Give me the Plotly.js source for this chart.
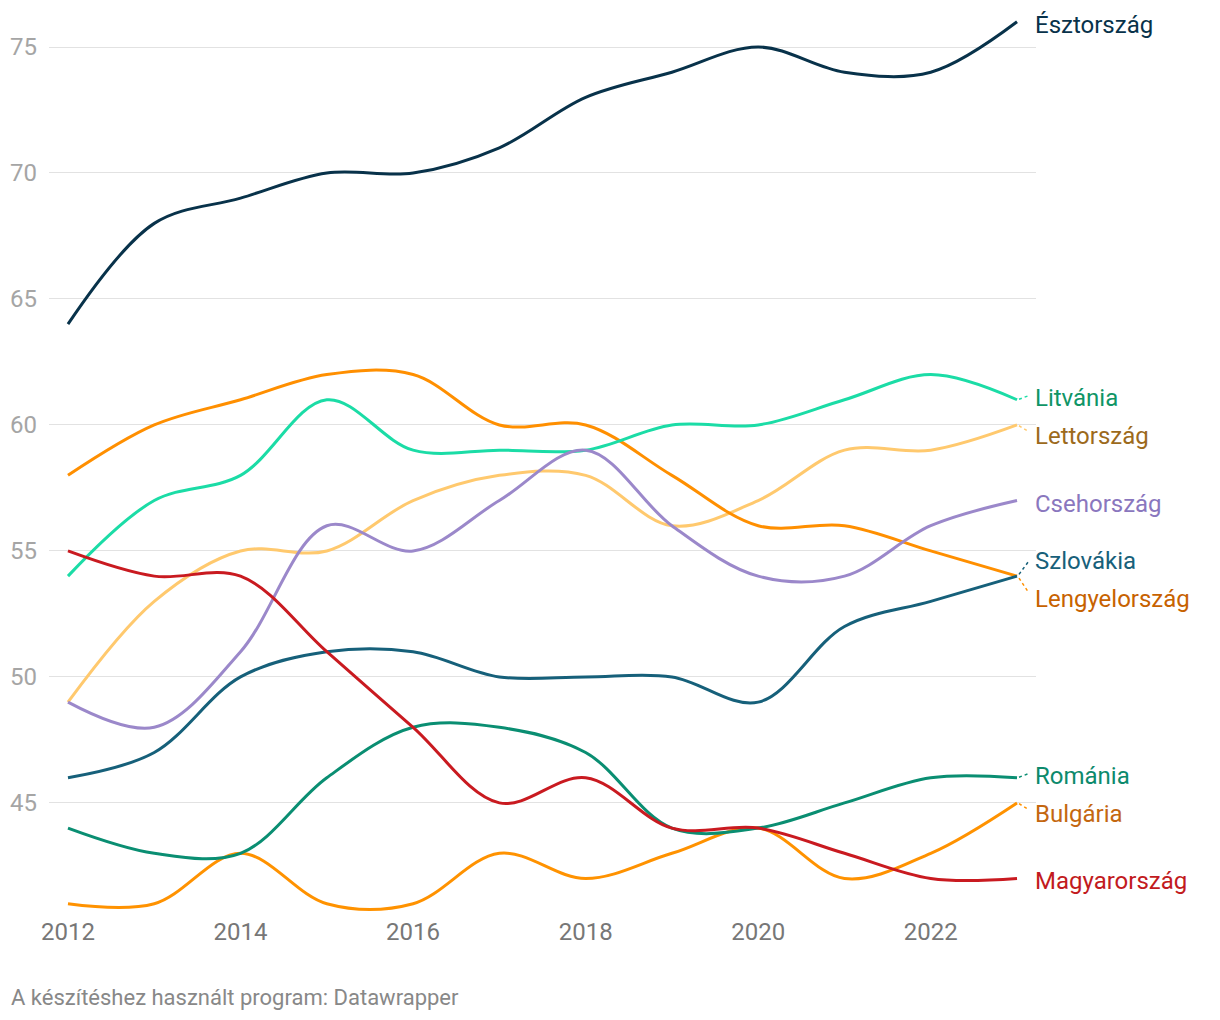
<!DOCTYPE html>
<html>
<head>
<meta charset="utf-8">
<script src="https://cdn.plot.ly/plotly-3.0.1.min.js"></script>
<style>
  html, body { margin: 0; padding: 0; background: #ffffff; }
  #chart { width: 1220px; height: 1020px; }
</style>
</head>
<body>
<div id="chart"></div>
<script>
const years = [2012, 2013, 2014, 2015, 2016, 2017, 2018, 2019, 2020, 2021, 2022, 2023];

const lettorszag    = [49, 53, 55, 55, 57, 58, 58, 56, 57, 59, 59, 60];
const lengyelorszag = [58, 60, 61, 62, 62, 60, 60, 58, 56, 56, 55, 54];
const bulgaria      = [41, 41, 43, 41, 41, 43, 42, 43, 44, 42, 43, 45];
const litvania      = [54, 57, 58, 61, 59, 59, 59, 60, 60, 61, 62, 61];
const romania       = [44, 43, 43, 46, 48, 48, 47, 44, 44, 45, 46, 46];
const szlovakia     = [46, 47, 50, 51, 51, 50, 50, 50, 49, 52, 53, 54];
const csehorszag    = [49, 48, 51, 56, 55, 57, 59, 56, 54, 54, 56, 57];
const magyarorszag  = [55, 54, 54, 51, 48, 45, 46, 44, 44, 43, 42, 42];
const esztorszag    = [64, 68, 69, 70, 70, 71, 73, 74, 75, 74, 74, 76];

const yTicks = [45, 50, 55, 60, 65, 70, 75];
const xTicks = [2012, 2014, 2016, 2018, 2020, 2022];
const sourceText = "A készítéshez használt program: Datawrapper";

// name, values, line colour, label colour, label pixel offset (up positive)
const series = [
  ["Lettország",    lettorszag,    "#ffc96e", "#9c6a1c", -8],
  ["Lengyelország", lengyelorszag, "#ff8f00", "#c76200", -20],
  ["Bulgária",      bulgaria,      "#ff9200", "#c46710", -8],
  ["Litvánia",      litvania,      "#1bdca6", "#0f9566", 5],
  ["Románia",       romania,       "#0a8e72", "#0c8a6c", 5],
  ["Szlovákia",     szlovakia,     "#16607a", "#17607a", 18],
  ["Csehország",    csehorszag,    "#9b88ca", "#8a77be", 0],
  ["Magyarország",  magyarorszag,  "#c91a20", "#c21a20", 0],
  ["Észtország",    esztorszag,    "#08324a", "#08324a", 0]
];

const traces = series.map(s => ({
  type: "scatter",
  mode: "lines",
  name: s[0],
  x: years,
  y: s[1],
  line: { color: s[2], width: 3, shape: "spline", smoothing: 1 },
  hoverinfo: "x+y+name"
}));

const lastX = years[years.length - 1];
const annotations = [];
const shapes = [];
series.forEach(s => {
  const lastY = s[1][s[1].length - 1];
  annotations.push({
    x: lastX, y: lastY, xref: "x", yref: "y",
    text: s[0], showarrow: false,
    xanchor: "left", yanchor: "middle",
    xshift: 16, yshift: s[4] - 3,
    font: { family: "Roboto", size: 24, color: s[3] }
  });
  if (s[4] !== 0) {
    shapes.push({
      type: "line", xref: "x", yref: "y",
      xsizemode: "pixel", ysizemode: "pixel",
      xanchor: lastX, yanchor: lastY,
      x0: 2, x1: 12, y0: s[4] * 0.1, y1: s[4] * 0.85,
      line: { color: s[2], width: 1.5, dash: "dot" }
    });
  }
});

annotations.push({
  xref: "paper", yref: "paper", x: 0, y: 0,
  xshift: -40, yshift: -85,
  xanchor: "left", yanchor: "middle",
  text: sourceText, showarrow: false,
  font: { family: "Roboto", size: 22, color: "#888888" }
});

const layout = {
  width: 1220, height: 1020,
  margin: { l: 49, r: 184, t: 15, b: 108 },
  paper_bgcolor: "#ffffff", plot_bgcolor: "#ffffff",
  showlegend: false,
  font: { family: "Roboto", size: 24, color: "#777777" },
  xaxis: {
    range: [2011.78, 2023.22],
    tickvals: xTicks, ticktext: xTicks.map(String),
    showgrid: false, zeroline: false, showline: false, ticks: "",
    ticklabelstandoff: 3,
    tickfont: { family: "Roboto", size: 24, color: "#777777" }
  },
  yaxis: {
    range: [40.67, 76.27],
    tickvals: yTicks, ticktext: yTicks.map(String),
    showgrid: true, gridcolor: "#e2e2e2", gridwidth: 1,
    zeroline: false, showline: false, ticks: "",
    ticklabelstandoff: 11,
    tickfont: { family: "Roboto", size: 24, color: "#a5a5a5" }
  },
  annotations: annotations,
  shapes: shapes
};

Plotly.newPlot("chart", traces, layout, { displayModeBar: false, staticPlot: true });
</script>
</body>
</html>
